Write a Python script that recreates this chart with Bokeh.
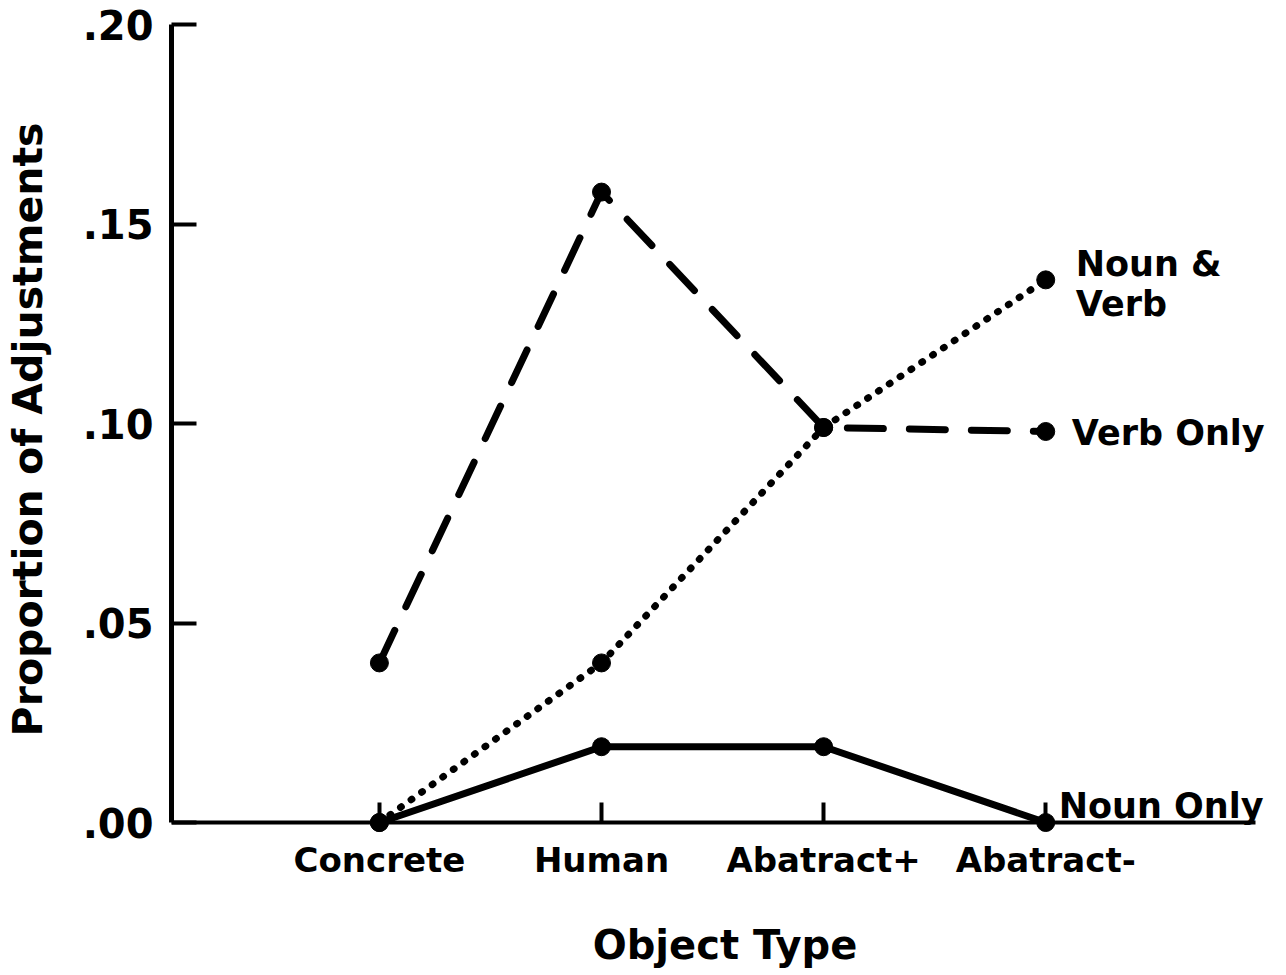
from bokeh.plotting import figure
from bokeh.models import Range1d, FixedTicker, Label, LinearAxis
from bokeh.embed import file_html
from bokeh.resources import INLINE

# ---- data ----
categories = ["Concrete", "Human", "Abatract+", "Abatract-"]
verb_only = [0.040, 0.158, 0.099, 0.098]
noun_and_verb = [0.000, 0.040, 0.099, 0.136]
noun_only = [0.000, 0.019, 0.019, 0.000]
y_ticks = [0.00, 0.05, 0.10, 0.15, 0.20]
y_tick_labels = [".00", ".05", ".10", ".15", ".20"]
series_names = ["Noun &\nVerb", "Verb Only", "Noun Only"]

xs = list(range(1, len(categories) + 1))
FONT = "DejaVu Sans"
X0, X1 = 0.064, 5.048

p = figure(width=1278, height=970, output_backend="svg", toolbar_location=None,
           x_range=Range1d(X0, X1), y_range=Range1d(-0.003, 0.2),
           min_border_left=170, min_border_right=0, min_border_top=24,
           min_border_bottom=136)
p.outline_line_color = None
p.grid.grid_line_color = None
p.background_fill_color = "white"
p.border_fill_color = "white"

ticker = FixedTicker(ticks=xs)
overrides = {x: c for x, c in zip(xs, categories)}

# x axis line + ticks at y = 0 (no labels)
xa = p.xaxis[0]
xa.fixed_location = 0
xa.bounds = (X0, 4.945)
xa.ticker = ticker
xa.major_label_overrides = {x: "" for x in xs}
xa.major_label_text_font_size = "0px"
xa.major_label_standoff = 0
xa.major_tick_in = 20
xa.major_tick_out = 0
xa.minor_tick_line_color = None
xa.axis_line_width = 4
xa.major_tick_line_width = 4
xa.axis_line_color = "black"
xa.major_tick_line_color = "black"

# x labels axis (no line)
xl = LinearAxis(ticker=ticker, major_label_overrides=overrides)
xl.axis_line_color = None
xl.major_tick_line_color = None
xl.minor_tick_line_color = None
xl.major_tick_in = 0
xl.major_tick_out = 0
xl.major_label_text_font = FONT
xl.major_label_text_font_style = "bold"
xl.major_label_text_font_size = "34px"
xl.major_label_text_color = "black"
xl.major_label_standoff = 5
xl.axis_label = "Object Type"
xl.axis_label_text_font = FONT
xl.axis_label_text_font_style = "bold"
xl.axis_label_text_font_size = "40px"
xl.axis_label_text_color = "black"
xl.axis_label_standoff = 39
p.add_layout(xl, "below")

# y axis
ya = p.yaxis[0]
ya.bounds = (0, 0.2)
ya.ticker = FixedTicker(ticks=y_ticks)
ya.major_label_overrides = {t: l for t, l in zip(y_ticks, y_tick_labels)}
ya.major_tick_in = 25
ya.major_tick_out = 0
ya.minor_tick_line_color = None
ya.axis_line_width = 5
ya.major_tick_line_width = 4
ya.axis_line_color = "black"
ya.major_tick_line_color = "black"
ya.major_label_text_font = FONT
ya.major_label_text_font_style = "bold"
ya.major_label_text_font_size = "40px"
ya.major_label_text_color = "black"
ya.major_label_standoff = 18
ya.axis_label = "Proportion of Adjustments"
ya.axis_label_text_font = FONT
ya.axis_label_text_font_style = "bold"
ya.axis_label_text_font_size = "41px"
ya.axis_label_text_color = "black"
ya.axis_label_standoff = 28

# series
p.line(xs, verb_only, line_color="black", line_width=7, line_dash="36 26", line_cap="round")
p.line(xs, noun_and_verb, line_color="black", line_width=7, line_dash="1 12", line_cap="round")
p.line(xs, noun_only, line_color="black", line_width=7, line_cap="round")
for ys in (verb_only, noun_and_verb, noun_only):
    p.scatter(xs, ys, size=18, marker="circle", fill_color="black", line_color="black")

# series labels
offsets = [(30, -4), (26, -2), (13, 17)]
for name, ys, (dx, dy) in zip(series_names, (noun_and_verb, verb_only, noun_only), offsets):
    p.add_layout(Label(x=xs[-1], y=ys[-1], text=name, x_offset=dx, y_offset=dy,
                       text_font=FONT, text_font_style="bold", text_font_size="35px",
                       text_color="black", text_baseline="middle", text_align="left",
                       text_line_height=1.0))

open("out.html", "w").write(file_html(p, INLINE))
